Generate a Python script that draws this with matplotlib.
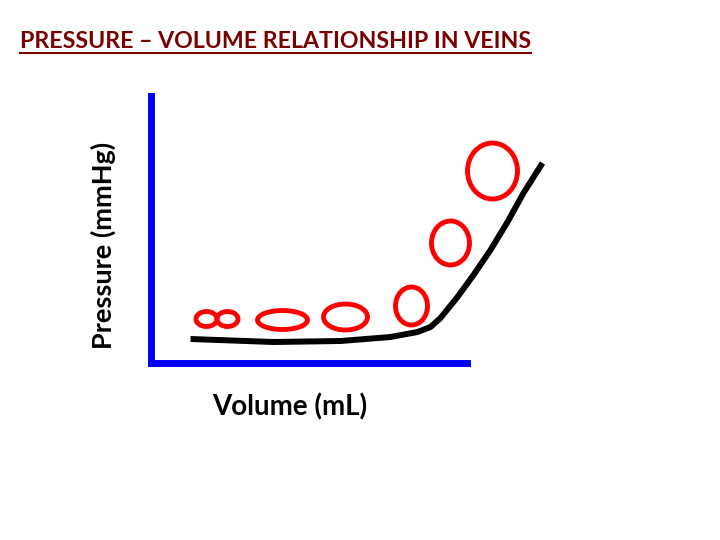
import numpy as np
from matplotlib import pyplot as plt
from matplotlib.patches import Ellipse
from matplotlib.lines import Line2D

# curve (volume, pressure in pixel-like units)
curve_vol = [40, 123, 190, 240, 267, 280, 290, 307, 323, 340, 357, 373, 392]
curve_pres = [24, 21, 22, 26, 31, 36, 45, 66, 88, 113, 141, 170, 200]

# vein cross sections: centre, width, height
vein_x = [56, 77, 132, 195, 261, 300, 342]
vein_y = [44, 44, 43, 46, 57, 120, 192]
vein_w = [21, 21, 50, 44, 32, 38, 50]
vein_h = [15, 15, 19, 26, 38, 44, 56]

title = "PRESSURE \u2013 VOLUME RELATIONSHIP IN VEINS"
xlabel = "Volume (mL)"
ylabel = "Pressure (mmHg)"

if __name__ == "__main__":
    fig = plt.figure(figsize=(7.2, 5.4), dpi=100)
    ax = fig.add_axes([150.5 / 720, (540 - 363) / 540, (467 - 150.5) / 720, (363 - 96) / 540])
    ax.set_xlim(0, 316.5)
    ax.set_ylim(0, 267)
    ax.set_xticks([])
    ax.set_yticks([])
    for side in ["top", "right"]:
        ax.spines[side].set_visible(False)
    for side in ["left", "bottom"]:
        ax.spines[side].set_color("#0000ff")
        ax.spines[side].set_linewidth(5.0)

    ax.plot(curve_vol, curve_pres, color="black", lw=4.3, clip_on=False,
            solid_capstyle="butt", solid_joinstyle="round")

    for x, y, w, h in zip(vein_x, vein_y, vein_w, vein_h):
        ax.add_patch(Ellipse((x, y), w, h, fill=False, edgecolor="#ff0000",
                             lw=3.5, clip_on=False))

    fig.text(290 / 720, 1 - 407 / 540, xlabel, ha="center", va="center",
             fontsize=20, fontfamily="Lato", fontweight="bold")
    fig.text(103 / 720, 1 - 245 / 540, ylabel, ha="center", va="center",
             rotation=90, fontsize=19.5, fontfamily="Lato", fontweight="bold")

    t = fig.text(20 / 720, 1 - 42 / 540, title, ha="left", va="center",
                 fontsize=16.7, fontfamily="Lato", fontweight="bold", color="#7a0000")
    fig.canvas.draw()
    bb = t.get_window_extent()
    fig.add_artist(Line2D([bb.x0 / 720, bb.x1 / 720], [1 - 53 / 540, 1 - 53 / 540],
                          color="#7a0000", lw=1.5))

    fig.savefig("out.png", dpi=100)
